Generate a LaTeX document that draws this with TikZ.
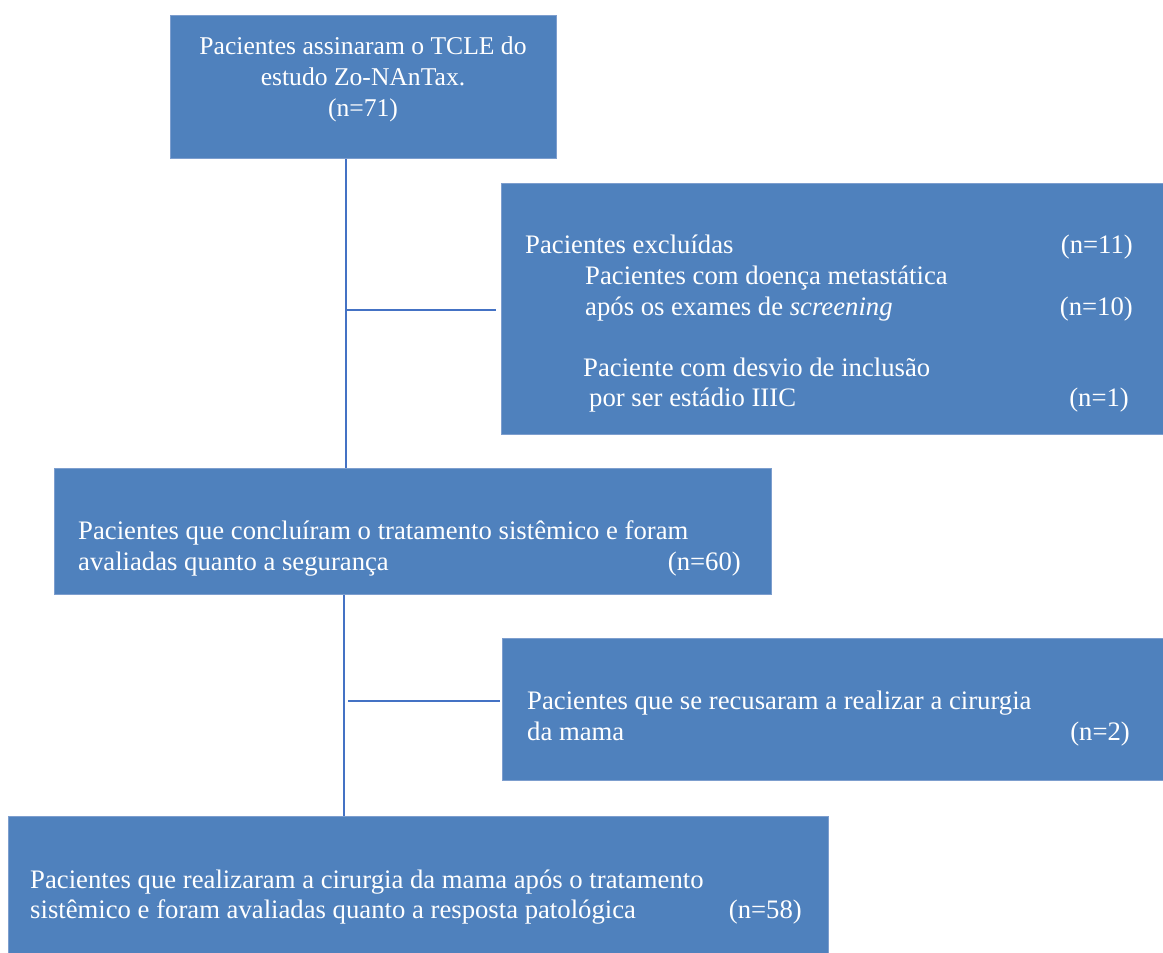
\documentclass[tikz,border=0pt]{standalone}
\usepackage{fontspec}
\setmainfont{Liberation Serif}
\definecolor{boxfill}{RGB}{79,129,189}
\definecolor{boxedge}{RGB}{125,158,206}
\definecolor{linecol}{RGB}{68,114,196}
\begin{document}
\begin{tikzpicture}[x=1pt,y=1pt,
  box/.style={fill=boxfill,draw=boxedge,line width=1pt,anchor=north west,inner sep=0pt},
  txt/.style={text=white,inner sep=0pt,font=\fontsize{26.7}{31}\selectfont},
  ttxt/.style={text=white,inner sep=0pt,font=\fontsize{25.6}{31}\selectfont},
  conn/.style={draw=linecol,line width=1.6pt}]
\useasboundingbox (0,0) rectangle (1163,-953);
% boxes
\node[box,minimum width=386pt,minimum height=143pt] (b1) at (170,-15) {};
\node[box,minimum width=662pt,minimum height=251pt] (b2) at (501,-183) {};
\node[box,minimum width=717pt,minimum height=126pt] (b3) at (54,-468) {};
\node[box,minimum width=661pt,minimum height=142pt] (b4) at (502,-638) {};
\node[box,minimum width=820pt,minimum height=137pt] (b5) at (8,-816) {};
% texts box 1
\node[ttxt,anchor=base] (t1a) at (363,-54) {Pacientes assinaram o TCLE do};
\node[ttxt,anchor=base] (t1b) at (363,-85) {estudo Zo-NAnTax.};
\node[ttxt,anchor=base] (t1c) at (363,-116) {(n=71)};
% box 2
\node[txt,anchor=base west] (t2a) at (525,-253) {Pacientes excluídas};
\node[txt,anchor=base east] (t2an) at (1133,-253) {(n=11)};
\node[txt,anchor=base west] (t2b) at (585,-284) {Pacientes com doença metastática};
\node[txt,anchor=base west] (t2c) at (585,-315) {após os exames de \textit{screening}};
\node[txt,anchor=base east] (t2cn) at (1133,-315) {(n=10)};
\node[txt,anchor=base west] (t2d) at (583,-376) {Paciente com desvio de inclusão};
\node[txt,anchor=base west] (t2e) at (589,-406) {por ser estádio IIIC};
\node[txt,anchor=base east] (t2en) at (1129,-406) {(n=1)};
% box 3
\node[txt,anchor=base west] (t3a) at (78,-539) {Pacientes que concluíram o tratamento sistêmico e foram};
\node[txt,anchor=base west] (t3b) at (78,-570) {avaliadas quanto a segurança};
\node[txt,anchor=base east] (t3n) at (741,-570) {(n=60)};
% box 4
\node[txt,anchor=base west] (t4a) at (527,-709) {Pacientes que se recusaram a realizar a cirurgia};
\node[txt,anchor=base west] (t4b) at (527,-740) {da mama};
\node[txt,anchor=base east] (t4n) at (1130,-740) {(n=2)};
% box 5
\node[txt,anchor=base west] (t5a) at (30,-888) {Pacientes que realizaram a cirurgia da mama após o tratamento};
\node[txt,anchor=base west] (t5b) at (30,-918) {sistêmico e foram avaliadas quanto a resposta patológica};
\node[txt,anchor=base east] (t5n) at (802,-918) {(n=58)};
% connectors
\coordinate (j1) at (346,-310);
\coordinate (j2) at (344,-701);
\draw[conn] (j1 |- b1.south) -- (j1 |- b3.north);
\draw[conn] (j1) -- ([xshift=-5pt]j1 -| b2.west);
\draw[conn] (j2 |- b3.south) -- (j2 |- b5.north);
\draw[conn] ([xshift=4pt]j2) -- ([xshift=-2pt]j2 -| b4.west);
\end{tikzpicture}
\end{document}
